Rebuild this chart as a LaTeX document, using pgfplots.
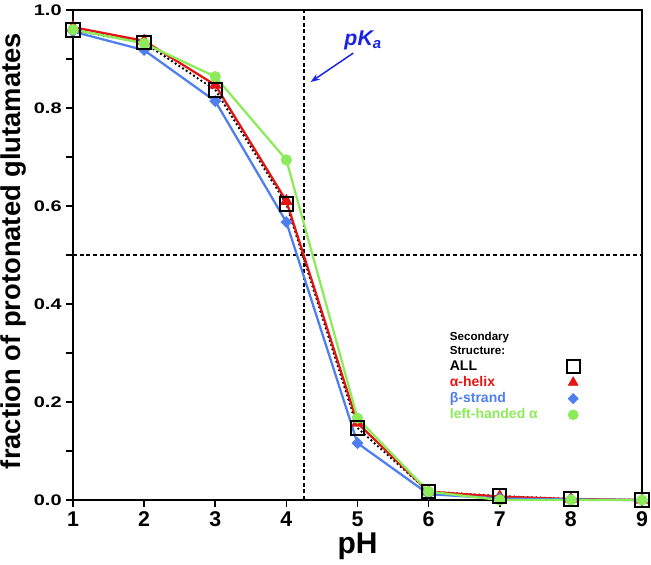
\documentclass[border=0pt]{standalone}
\usepackage{pgfplots}
\pgfplotsset{compat=1.18}
\usepackage{fontspec}
\setmainfont{Liberation Sans}
\newfontfamily\widesans[FakeStretch=1.3]{Liberation Sans}
\usetikzlibrary{calc,arrows.meta}

\definecolor{cred}{RGB}{228,20,20}
\definecolor{cblue}{RGB}{78,126,240}
\definecolor{cgreen}{RGB}{140,235,88}
\definecolor{pkblue}{RGB}{25,35,230}

\begin{document}
\begin{tikzpicture}
\begin{axis}[
    scale only axis,
    width=426.75pt, height=367.5pt,
    xmin=1, xmax=9, ymin=0, ymax=1,
    xtick={1,...,9},
    ytick={0,0.2,...,1.0},
    minor ytick={0.1,0.3,0.5,0.7,0.9},
    xtick pos=bottom, ytick pos=left,
    tick align=outside,
    major tick length=5pt, minor tick length=5pt,
    every tick/.style={black, line width=1.2pt},
    axis line style={line width=1.5pt},
    /pgf/number format/assume math mode=true,
    xticklabel style={font=\fontsize{16}{18}\selectfont\bfseries},
    yticklabel style={font=\widesans\fontsize{11.5}{13}\selectfont\bfseries,
        /pgf/number format/.cd, fixed, fixed zerofill, precision=1},
    xlabel={pH},
    ylabel={fraction of protonated glutamates},
    xlabel style={font=\fontsize{22.5}{26}\selectfont\bfseries, at={(axis description cs:0.5,-0.094)}, anchor=center},
    ylabel style={font=\fontsize{20.5}{24}\selectfont\bfseries, at={(axis description cs:-0.105,0.508)}, anchor=center},
    clip=false,
    legend plot pos=right,
    legend cell align=left,
    legend style={at={(axis cs:6.22,0.351)}, anchor=north west, draw=none, fill=none,
        column sep=17pt, row sep=1pt, nodes={inner sep=1pt},
        font=\fontsize{10.5}{12}\selectfont\bfseries},
]
% legend entries
\addlegendimage{empty legend}
\addlegendentry[font=\fontsize{8.7}{9}\selectfont\bfseries]{Secondary}
\addlegendimage{empty legend}
\addlegendentry[font=\fontsize{8.7}{9}\selectfont\bfseries]{Structure:}
\addlegendimage{only marks, mark=square, mark size=5pt, mark options={black, line width=1.5pt}}
\addlegendentry{ALL}
\addlegendimage{only marks, mark=triangle*, mark size=4.3pt, mark options={cred}}
\addlegendentry{\textcolor{cred}{α-helix}}
\addlegendimage{only marks, mark=square*, mark size=2.7pt, mark options={cblue, rotate=45}}
\addlegendentry{\textcolor{cblue}{β-strand}}
\addlegendimage{only marks, mark=*, mark size=3.8pt, mark options={cgreen}}
\addlegendentry{\textcolor{cgreen}{left-handed α}}

% reference lines
\addplot[forget plot, black, line width=1pt, dash pattern=on 3pt off 2pt]
    coordinates {(4.25,0) (4.25,1)};
\addplot[forget plot, black, line width=1pt, dash pattern=on 3pt off 2pt]
    coordinates {(1,0.5) (9,0.5)};

% ALL
\addplot[forget plot, black, line width=2pt, line cap=round, dash pattern=on 0pt off 3.3pt]
    coordinates {(1,0.959)(2,0.933)(3,0.837)(4,0.604)(5,0.147)(6,0.017)(7,0.008)(8,0.002)(9,0.000)};
% alpha-helix
\addplot[forget plot, cred, line width=1.7pt, mark=triangle*, mark size=3.8pt]
    coordinates {(1,0.965)(2,0.937)(3,0.847)(4,0.610)(5,0.157)(6,0.017)(7,0.007)(8,0.002)(9,0.000)};
% beta-strand
\addplot[forget plot, cblue, line width=1.7pt, mark=square*, mark size=2.3pt, mark options={rotate=45}]
    coordinates {(1,0.956)(2,0.918)(3,0.814)(4,0.567)(5,0.116)(6,0.012)(7,0.003)(8,0.001)(9,0.000)};
% left-handed alpha
\addplot[forget plot, cgreen, line width=1.7pt, mark=*, mark size=3.3pt]
    coordinates {(1,0.960)(2,0.932)(3,0.864)(4,0.694)(5,0.167)(6,0.017)(7,0.000)(8,0.000)(9,0.000)};
% ALL markers
\addplot[forget plot, only marks, mark=square, mark size=5pt, mark options={black, line width=1.5pt}]
    coordinates {(1,0.959)(2,0.933)(3,0.837)(4,0.604)(5,0.147)(6,0.017)(7,0.008)(8,0.002)(9,0.000)};

\node[pkblue, font=\fontsize{16}{18}\selectfont\bfseries\itshape] at (axis cs:5.08,0.939) {pK\textsubscript{a}};
\draw[pkblue, line width=1.1pt, -{Stealth[length=7pt,width=5pt]}] (axis cs:4.94,0.912) -- (axis cs:4.34,0.853);
\end{axis}
\pgfresetboundingbox
\path ($(current axis.south west)+(-54.75pt,-48pt)$) rectangle ($(current axis.north east)+(6.75pt,7.5pt)$);
\end{tikzpicture}
\end{document}
